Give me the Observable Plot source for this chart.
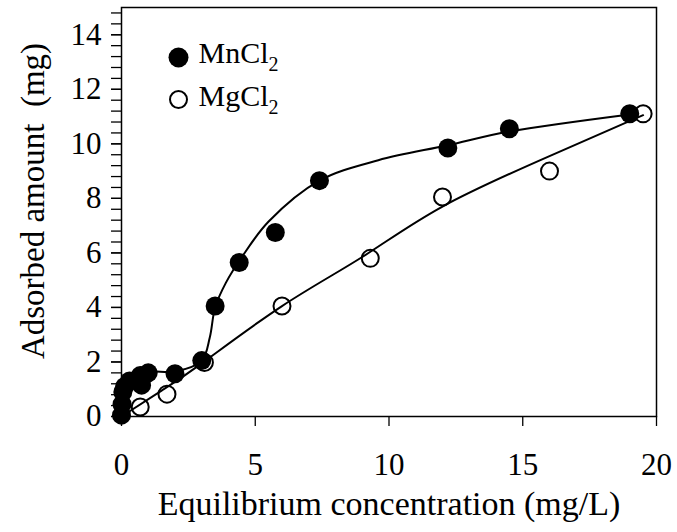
<!DOCTYPE html>
<html><head><meta charset="utf-8">
<script src="https://cdn.jsdelivr.net/npm/d3@7"></script>
<script src="https://cdn.jsdelivr.net/npm/@observablehq/plot@0.6"></script>
<style>body{margin:0;background:#fff} #chart svg{display:block}</style>
</head><body><div id="chart"></div>
<script>
// MnCl2 measured points
const mnX = [0, 0.02, 0.05, 0.12, 0.3, 0.7, 0.75, 1.0, 2.0, 3.0, 3.5, 4.4, 5.75, 7.4, 12.2, 14.5, 19.0];
const mnY = [0.05, 0.45, 0.9, 1.1, 1.3, 1.5, 1.15, 1.6, 1.57, 2.05, 4.05, 5.65, 6.75, 8.65, 9.85, 10.55, 11.1];
// MgCl2 measured points
const mgX = [0.7, 1.7, 3.1, 6.0, 9.3, 12.0, 16.0, 19.5];
const mgY = [0.35, 0.82, 1.98, 4.05, 5.8, 8.05, 9.0, 11.1];
// fitted curves, knots
const mnFitX = [0, 0.05, 0.3, 1.0, 2.0, 3.0, 3.3, 3.5, 3.9, 4.5, 5.5, 7.4, 9.6, 12.2, 14.5, 19.0];
const mnFitY = [0, 0.9, 1.45, 1.65, 1.65, 2.05, 2.9, 4.0, 4.9, 5.85, 7.15, 8.65, 9.4, 9.95, 10.45, 11.08];
const mgFitX = [0, 1.5, 3, 6, 9, 12, 16, 19.5];
const mgFitY = [0, 0.95, 1.95, 4.05, 5.85, 7.7, 9.55, 11.05];
// axes
const xTicks = [0, 5, 10, 15, 20];
const yTicks = [0, 2, 4, 6, 8, 10, 12, 14];
const yMinor = d3.range(0, 15, 0.4);
const seriesNames = ["MnCl2", "MgCl2"];
const xTitle = "Equilibrium concentration (mg/L)";
const yTitle = "Adsorbed amount\u00a0 (mg)";

const mn = mnX.map((x, i) => ({x, y: mnY[i]}));
const mg = mgX.map((x, i) => ({x, y: mgY[i]}));
const mnFit = mnFitX.map((x, i) => ({x, y: mnFitY[i]}));
const mgFit = mgFitX.map((x, i) => ({x, y: mgFitY[i]}));

const font = "'Liberation Serif', 'Times New Roman', serif";
const plot = Plot.plot({
  width: 677, height: 532,
  marginLeft: 121, marginRight: 21, marginTop: 7, marginBottom: 116,
  style: {fontFamily: font, fontSize: "31px", color: "black", background: "white"},
  x: {domain: [0, 20]},
  y: {domain: [0, 15]},
  marks: [
    Plot.axisY({ticks: yMinor, tickSize: 10, tickFormat: () => "", label: null, strokeWidth: 1.3}),
    Plot.axisY({ticks: yTicks, tickSize: 10, tickPadding: 10, tickFormat: d => String(d), label: null, fontSize: 31, strokeWidth: 1.3}),
    Plot.axisX({ticks: xTicks, tickSize: 10, tickPadding: 26, tickFormat: d => String(d), label: null, fontSize: 31, strokeWidth: 1.3}),
    Plot.frame({stroke: "black", strokeWidth: 1.5}),
    Plot.dot(mg, {x: "x", y: "y", r: 8.5, fill: "white", stroke: "black", strokeWidth: 2}),
    Plot.line(mgFit, {x: "x", y: "y", curve: "natural", stroke: "black", strokeWidth: 2}),
    Plot.line(mnFit, {x: "x", y: "y", curve: "catmull-rom", stroke: "black", strokeWidth: 2}),
    Plot.dot(mn, {x: "x", y: "y", r: 9.5, fill: "black", stroke: "none"}),
    // legend
    Plot.dot([seriesNames[0]], {frameAnchor: "top-left", dx: 57, dy: 50, r: 10, fill: "black"}),
    Plot.dot([seriesNames[1]], {frameAnchor: "top-left", dx: 57, dy: 92, r: 8.5, fill: "white", stroke: "black", strokeWidth: 2}),
    Plot.text([seriesNames[0]], {text: d => d, frameAnchor: "top-left", dx: 77, dy: 46, textAnchor: "start", lineAnchor: "middle", fontSize: 30, fill: "black"}),
    Plot.text([seriesNames[1]], {text: d => d, frameAnchor: "top-left", dx: 77, dy: 89, textAnchor: "start", lineAnchor: "middle", fontSize: 30, fill: "black"}),
    // axis titles
    Plot.text([xTitle], {text: d => d, frameAnchor: "bottom", dy: 88, lineAnchor: "middle", textAnchor: "middle", fontSize: 34, fill: "black"}),
    Plot.text([yTitle], {text: d => d, frameAnchor: "left", dx: -88, dy: -11, rotate: -90, lineAnchor: "middle", textAnchor: "middle", fontSize: 33, fill: "black"})
  ]
});
document.getElementById("chart").appendChild(plot);
// subscripts for chemical formulas
d3.select(plot).selectAll("text").each(function() {
  const t = this.textContent;
  if (seriesNames.includes(t)) {
    const el = d3.select(this);
    el.text(t.slice(0, -1));
    el.append("tspan").attr("font-size", 20).attr("dy", 8).text(t.slice(-1));
  }
});
</script>
</body></html>
